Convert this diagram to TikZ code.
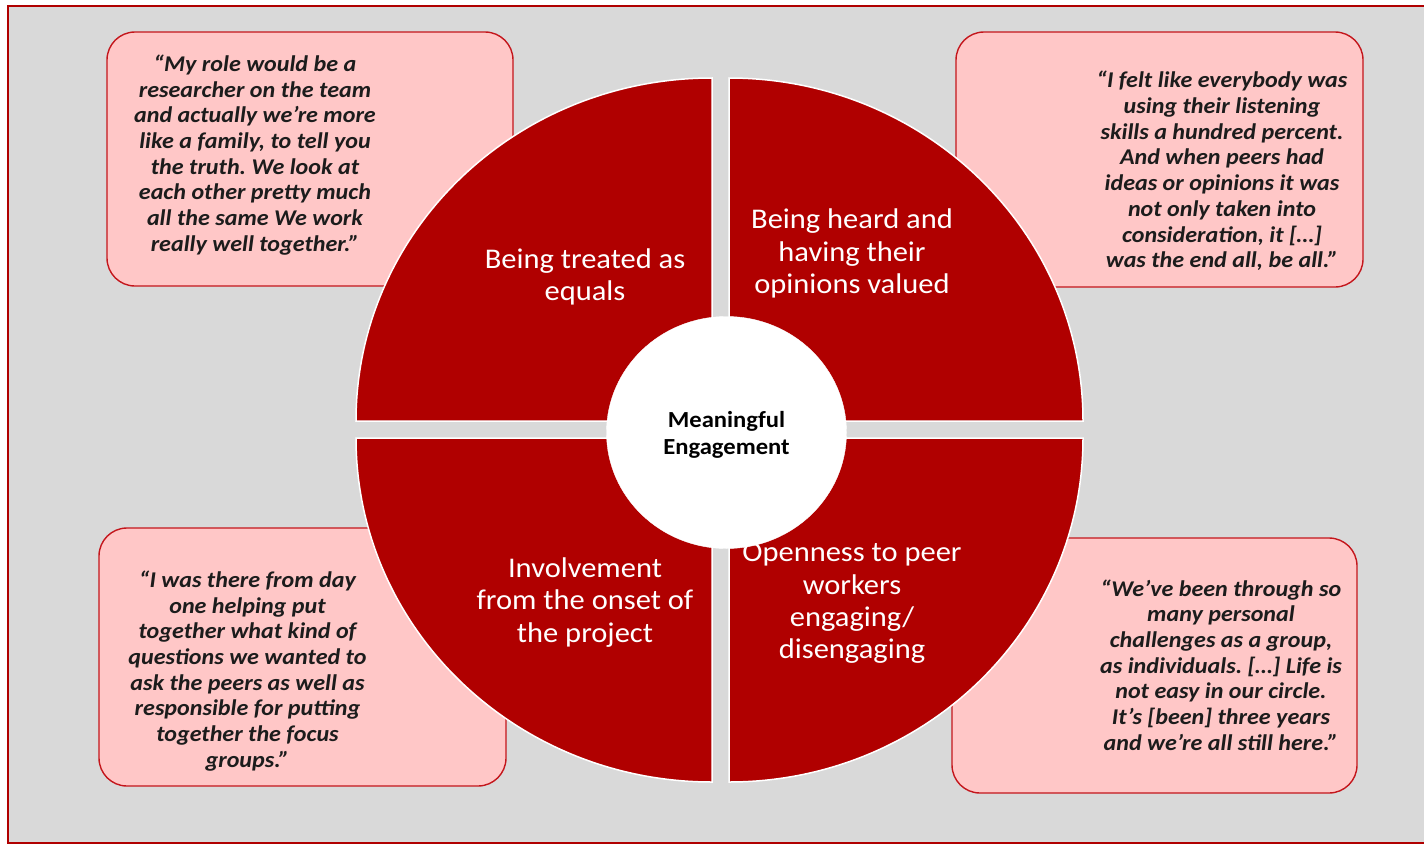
\documentclass[tikz,border=0pt]{standalone}
\usepackage{fontspec}
\setmainfont{Carlito}[FakeStretch=1.07]
\usetikzlibrary{shapes.geometric}
\definecolor{quadred}{HTML}{B00000}
\definecolor{bggray}{HTML}{D9D9D9}
\definecolor{boxpink}{HTML}{FFC7C7}
\definecolor{boxline}{HTML}{C4161C}
\definecolor{framered}{HTML}{B00000}
\definecolor{quoteink}{HTML}{1C1C1C}
\frenchspacing
\tikzset{
  quotebox/.style={draw=boxline, line width=1.4pt, fill=boxpink, rounded corners=28pt, inner sep=0pt},
  quotetext/.style={align=center, text=quoteink, inner sep=0pt, font=\fontsize{22.5}{25.7}\selectfont\bfseries\itshape},
  quadrant/.style={fill=quadred, draw=white, line width=1.5pt},
  quadlabel/.style={align=center, text=white, inner sep=0pt, font=\fontsize{28.5}{32.3}\selectfont},
  hub/.style={ellipse, fill=white, draw=white, inner sep=0pt, minimum width=240pt, minimum height=232pt},
  hubtext/.style={align=center, text=black, inner sep=0pt, font=\fontsize{23}{27.5}\selectfont\bfseries}
}
\begin{document}
\begin{tikzpicture}[x=1pt,y=-1pt]
\useasboundingbox (0,0) rectangle (1424,846);
\fill[white] (0,0) rectangle (1424,846);
\fill[bggray] (8,6) rectangle (1424,843);
\draw[framered, line width=2.5pt] (1424,6) -- (8,6) -- (8,843) -- (1424,843);

% quote boxes
\node[quotebox, minimum width=406pt, minimum height=254pt] (boxTL) at (310,159) {};
\node[quotebox, minimum width=407pt, minimum height=255pt] (boxTR) at (1159.5,159.5) {};
\node[quotebox, minimum width=407pt, minimum height=258pt] (boxBL) at (302.5,657) {};
\node[quotebox, minimum width=405pt, minimum height=255pt] (boxBR) at (1154.5,665.5) {};

% quadrants
\draw[quadrant] (356,421) arc[start angle=180, end angle=270, x radius=356, y radius=343] -- (712,421) -- cycle;
\draw[quadrant] (729,78) arc[start angle=270, end angle=360, x radius=354, y radius=343] -- (729,421) -- cycle;
\draw[quadrant] (1083,438) arc[start angle=0, end angle=90, x radius=354, y radius=344] -- (729,438) -- cycle;
\draw[quadrant] (712,782) arc[start angle=90, end angle=180, x radius=356, y radius=344] -- (712,438) -- cycle;

% hub
\node[hub] (hub) at (726.5,432.5) {};
\node[hubtext] (hubtxt) at (726.5,435) {Meaningful\\Engagement};

% quadrant labels
\node[quadlabel] (labTL) at (585,277) {Being treated as\\equals};
\node[quadlabel] (labTR) at (852,253.5) {Being heard and\\having their\\opinions valued};
\node[quadlabel] (labBL) at (585,602.5) {Involvement\\from the onset of\\the project};
\node[quadlabel] (labBR) at (852,603.5) {Openness to peer\\workers\\engaging/\\disengaging};

% quotes
\node[quotetext] (qTL) at (255,155) {“My role would be a\\researcher on the team\\and actually we’re more\\like a family, to tell you\\the truth. We look at\\each other pretty much\\all the same We work\\really well together.”};
\node[quotetext] (qTR) at (1222,171) {“I felt like everybody was\\using their listening\\skills a hundred percent.\\And when peers had\\ideas or opinions it was\\not only taken into\\consideration, it […]\\was the end all, be all.”};
\node[quotetext] (qBL) at (247.5,671) {“I was there from day\\one helping put\\together what kind of\\questions we wanted to\\ask the peers as well as\\responsible for putting\\together the focus\\groups.”};
\node[quotetext] (qBR) at (1221,665) {“We’ve been through so\\many personal\\challenges as a group,\\as individuals. […] Life is\\not easy in our circle.\\It’s [been] three years\\and we’re all still here.”};
\end{tikzpicture}
\end{document}
